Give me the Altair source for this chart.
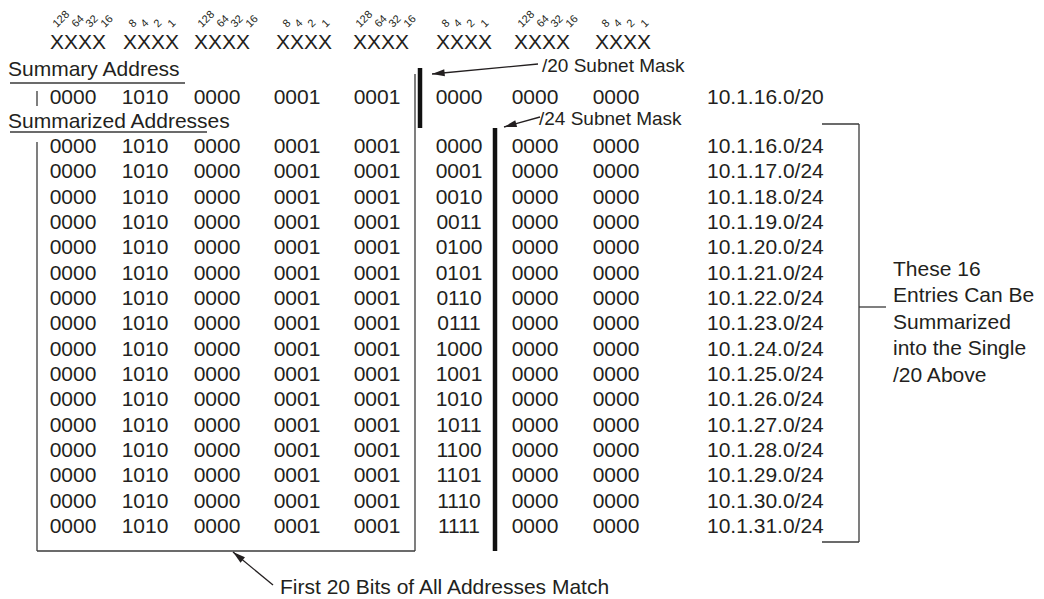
import math
import altair as alt
import pandas as pd

FONT = "Liberation Sans"
INK = "#231f20"
LINE = "#3a3a3a"

# ---------------- content ----------------
bit_high = ["128", "64", "32", "16"]
bit_low = ["8", "4", "2", "1"]
header_nibbles = ["XXXX", "XXXX", "XXXX", "XXXX", "XXXX", "XXXX", "XXXX", "XXXX"]
summary_title = "Summary Address"
summarized_title = "Summarized Addresses"
summary_nibbles = ["0000", "1010", "0000", "0001", "0001", "0000", "0000", "0000"]
summary_address = "10.1.16.0/20"
common_nibbles = ["0000", "1010", "0000", "0001", "0001"]
third_octet_low = ["0000", "0001", "0010", "0011", "0100", "0101", "0110", "0111",
                   "1000", "1001", "1010", "1011", "1100", "1101", "1110", "1111"]
fourth_octet = ["0000", "0000"]
addresses = ["10.1.16.0/24", "10.1.17.0/24", "10.1.18.0/24", "10.1.19.0/24",
             "10.1.20.0/24", "10.1.21.0/24", "10.1.22.0/24", "10.1.23.0/24",
             "10.1.24.0/24", "10.1.25.0/24", "10.1.26.0/24", "10.1.27.0/24",
             "10.1.28.0/24", "10.1.29.0/24", "10.1.30.0/24", "10.1.31.0/24"]
mask20_label = "/20 Subnet Mask"
mask24_label = "/24 Subnet Mask"
note_lines = ["These 16", "Entries Can Be", "Summarized", "into the Single", "/20 Above"]
bottom_note = "First 20 Bits of All Addresses Match"

# ---------------- layout (page pixels) ----------------
W, H = 1028, 591
col_x = [73, 145, 217, 297, 377, 459, 535, 616]
addr_x = 707
header_x = [78, 151, 222, 304, 381, 464, 542, 623]
header_left = [50, 123, 195, 277, 353, 436, 515, 596]
high_off = [7, 26, 40, 55]
low_off = [10, 22, 35, 49]
bit_base = 28
header_base = 49
summary_title_base = 76
summary_row_base = 104
summarized_title_base = 128
first_row_base = 153
row_step = 25.33
note_x = 893
note_bases = [276, 302, 329, 355, 382]

xs = alt.Scale(domain=[8, 8 + W], nice=False, zero=False)
ys = alt.Scale(domain=[8, 8 + H], nice=False, zero=False, reverse=True)


def xenc(f="x"):
    return alt.X(f"{f}:Q", scale=xs, axis=None)


def yenc(f="y"):
    return alt.Y(f"{f}:Q", scale=ys, axis=None)


# ---- text tables ----
bits = []
for g, left in enumerate(header_left):
    labels = bit_high if g % 2 == 0 else bit_low
    offs = high_off if g % 2 == 0 else low_off
    for lab, o in zip(labels, offs):
        bits.append({"x": left + o, "y": bit_base, "t": lab})
bits = pd.DataFrame(bits)

headers = pd.DataFrame({"x": header_x, "y": [header_base] * 8, "t": header_nibbles})

cells = []
for c, v in enumerate(summary_nibbles):
    cells.append({"x": col_x[c], "y": summary_row_base, "t": v})
for r in range(len(addresses)):
    row = common_nibbles + [third_octet_low[r]] + fourth_octet
    for c, v in enumerate(row):
        cells.append({"x": col_x[c], "y": first_row_base + r * row_step, "t": v})
cells = pd.DataFrame(cells)

left_texts = [{"x": addr_x, "y": summary_row_base, "t": summary_address}]
for r, a in enumerate(addresses):
    left_texts.append({"x": addr_x, "y": first_row_base + r * row_step, "t": a})
left_texts.append({"x": 8, "y": summary_title_base, "t": summary_title})
left_texts.append({"x": 8, "y": summarized_title_base, "t": summarized_title})
for t, b in zip(note_lines, note_bases):
    left_texts.append({"x": note_x, "y": b, "t": t})
left_texts.append({"x": 280, "y": 594, "t": bottom_note})
left_texts = pd.DataFrame(left_texts)

mask_texts = pd.DataFrame({"x": [542, 539], "y": [72, 125], "t": [mask20_label, mask24_label]})

# ---- lines ----
thin = pd.DataFrame([
    {"x": 10, "y": 83, "x2": 185, "y2": 83},      # underline summary
    {"x": 10, "y": 132, "x2": 207, "y2": 132},    # underline summarized
    {"x": 37, "y": 91, "x2": 37, "y2": 106},      # small tick
    {"x": 37, "y": 142, "x2": 37, "y2": 551},     # box left
    {"x": 37, "y": 551, "x2": 415, "y2": 551},    # box bottom
    {"x": 415, "y": 74, "x2": 415, "y2": 551},    # box right
    {"x": 822, "y": 124, "x2": 859, "y2": 124},   # bracket top
    {"x": 859, "y": 124, "x2": 859, "y2": 542},   # bracket side
    {"x": 822, "y": 542, "x2": 859, "y2": 542},   # bracket bottom
    {"x": 859, "y": 307, "x2": 886, "y2": 307},   # bracket tick
])
thick = pd.DataFrame([
    {"x": 420, "y": 68, "x2": 420, "y2": 128},
    {"x": 495, "y": 128, "x2": 495, "y2": 551},
])
arrows = pd.DataFrame([
    {"x": 538, "y": 64, "x2": 432, "y2": 74},
    {"x": 540, "y": 117, "x2": 504, "y2": 127},
    {"x": 273, "y": 585, "x2": 233, "y2": 552},
])
arrows["ang"] = [math.degrees(math.atan2(r.y2 - r.y, r.x2 - r.x)) % 360 for r in arrows.itertuples()]


def rules(df, width, color):
    return alt.Chart(df).mark_rule(strokeWidth=width, color=color).encode(
        x=xenc(), y=yenc(), x2="x2:Q", y2="y2:Q")


def text_layer(df, size, align, angle=0):
    kw = dict(font=FONT, fontSize=size, align=align, baseline="alphabetic", color=INK)
    if angle:
        kw["angle"] = angle
    return alt.Chart(df).mark_text(**kw).encode(x=xenc(), y=yenc(), text="t:N")


heads = alt.Chart(arrows).mark_point(
    shape="M0,0L-2,-0.55L-2,0.55Z", filled=True, size=160, color=INK, opacity=1, strokeWidth=0
).encode(x=xenc("x2"), y=yenc("y2"), angle=alt.Angle("ang:Q", scale=None))

chart = alt.layer(
    rules(thin, 1.3, LINE),
    rules(thick, 4.5, "#111111"),
    rules(arrows, 1.3, INK),
    heads,
    text_layer(bits, 11, "left", 315),
    text_layer(headers, 21, "center"),
    text_layer(cells, 21, "center"),
    text_layer(left_texts, 21, "left"),
    text_layer(mask_texts, 19, "left"),
).properties(
    width=W, height=H, padding=0, autosize=alt.AutoSizeParams(type="none"),
    background="white"
).configure_view(stroke=None)

chart.save("out.html", embed_options={"renderer": "svg", "actions": False})
